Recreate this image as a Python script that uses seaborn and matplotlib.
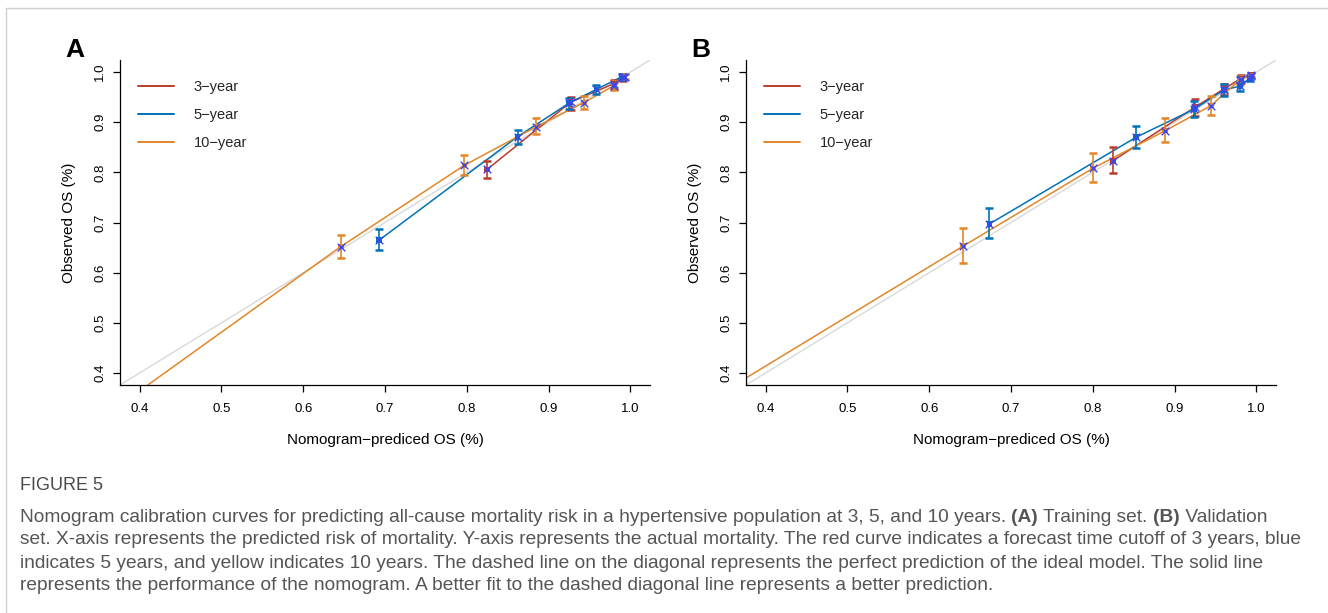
import numpy as np
import pandas as pd
import matplotlib
matplotlib.use("Agg")
import matplotlib.pyplot as plt
from matplotlib.lines import Line2D
import seaborn as sns

# ---------------- data ----------------
series_names = ["3\u2212year", "5\u2212year", "10\u2212year"]
series_colors = ["#BC3C29", "#0072B5", "#E18727"]

# Panel A (training set)
a3_x = [0.825, 0.927, 0.980, 0.991]
a3_y = [0.806, 0.940, 0.977, 0.990]
a3_lo = [0.789, 0.925, 0.967, 0.983]
a3_hi = [0.823, 0.950, 0.985, 0.996]

a5_x = [0.693, 0.862, 0.925, 0.9585, 0.990]
a5_y = [0.665, 0.871, 0.938, 0.9655, 0.991]
a5_lo = [0.645, 0.857, 0.926, 0.956, 0.985]
a5_hi = [0.687, 0.884, 0.948, 0.974, 0.996]

a10_x = [0.410, 0.646, 0.797, 0.885, 0.943, 0.980, 0.993]
a10_y = [0.376, 0.652, 0.814, 0.891, 0.939, 0.973, 0.991]
a10_lo = [np.nan, 0.629, 0.795, 0.876, 0.927, 0.965, 0.986]
a10_hi = [np.nan, 0.675, 0.835, 0.908, 0.952, 0.982, 0.996]

# Panel B (validation set)
b3_x = [0.8245, 0.925, 0.961, 0.981, 0.994]
b3_y = [0.823, 0.930, 0.967, 0.987, 0.995]
b3_lo = [0.799, 0.912, 0.955, 0.978, 0.990]
b3_hi = [0.850, 0.946, 0.976, 0.994, 0.998]

b5_x = [0.6735, 0.853, 0.924, 0.960, 0.980, 0.992]
b5_y = [0.697, 0.870, 0.926, 0.964, 0.972, 0.988]
b5_lo = [0.669, 0.848, 0.910, 0.952, 0.962, 0.982]
b5_hi = [0.728, 0.892, 0.943, 0.976, 0.982, 0.994]

b10_x = [0.376, 0.6416, 0.800, 0.8886, 0.9445, 0.980, 0.993]
b10_y = [0.390, 0.653, 0.808, 0.883, 0.933, 0.985, 0.993]
b10_lo = [np.nan, 0.619, 0.781, 0.861, 0.914, 0.975, 0.988]
b10_hi = [np.nan, 0.690, 0.838, 0.908, 0.952, 0.993, 0.998]

ticks = [0.4, 0.5, 0.6, 0.7, 0.8, 0.9, 1.0]
tick_labels = ["0.4", "0.5", "0.6", "0.7", "0.8", "0.9", "1.0"]
x_label = "Nomogram\u2212prediced OS (%)"
y_label = "Observed OS (%)"
panel_letters = ["A", "B"]

caption_title = "FIGURE 5"
caption_lines = [
    [("Nomogram calibration curves for predicting all-cause mortality risk in a hypertensive population at 3, 5, and 10 years. ", False),
     ("(A)", True), (" Training set. ", False), ("(B)", True), (" Validation", False)],
    [("set. X-axis represents the predicted risk of mortality. Y-axis represents the actual mortality. The red curve indicates a forecast time cutoff of 3 years, blue", False)],
    [("indicates 5 years, and yellow indicates 10 years. The dashed line on the diagonal represents the perfect prediction of the ideal model. The solid line", False)],
    [("represents the performance of the nomogram. A better fit to the dashed diagonal line represents a better prediction.", False)],
]


def make_df(xs, ys, los, his):
    frames = []
    for name, x, y, lo, hi in zip(series_names, xs, ys, los, his):
        frames.append(pd.DataFrame({"pred": x, "obs": y, "lo": lo, "hi": hi,
                                    "series": name, "order": np.arange(len(x))}))
    return pd.concat(frames, ignore_index=True)


dfA = make_df([a3_x, a5_x, a10_x], [a3_y, a5_y, a10_y], [a3_lo, a5_lo, a10_lo], [a3_hi, a5_hi, a10_hi])
dfB = make_df([b3_x, b5_x, b10_x], [b3_y, b5_y, b10_y], [b3_lo, b5_lo, b10_lo], [b3_hi, b5_hi, b10_hi])

# ---------------- style ----------------
sns.set_theme(style="white")
plt.rcParams["font.family"] = ["Liberation Sans", "DejaVu Sans"]
plt.rcParams["axes.linewidth"] = 0.9

W, H = 1328, 613
fig = plt.figure(figsize=(W / 100, H / 100), dpi=100)
fig.patch.set_facecolor("white")

palette = dict(zip(series_names, series_colors))
lims = (0.376, 1.024)

axes_px = [(120, 60, 650, 385), (746, 60, 1276, 385)]

for k, (df, (l, t, r, b)) in enumerate(zip([dfA, dfB], axes_px)):
    ax = fig.add_axes([l / W, 1 - b / H, (r - l) / W, (b - t) / H])
    ax.set_facecolor("white")
    ax.axline((0.5, 0.5), slope=1, color="#D9D9D9", lw=1.0, zorder=1)

    sns.lineplot(data=df, x="pred", y="obs", hue="series", units="series", estimator=None,
                 sort=False, palette=palette, hue_order=series_names, lw=1.1,
                 legend=False, ax=ax, zorder=2)

    pts = df.dropna(subset=["lo"])
    for name in series_names:
        s = pts[pts["series"] == name]
        ax.errorbar(s["pred"], s["obs"], yerr=[s["obs"] - s["lo"], s["hi"] - s["obs"]],
                    fmt="none", ecolor=palette[name], elinewidth=1.2, capsize=2.8,
                    capthick=1.8, zorder=3)
    sns.scatterplot(data=pts, x="pred", y="obs", hue="series", palette=palette,
                    hue_order=series_names, marker="s", s=16, linewidth=0,
                    legend=False, ax=ax, zorder=4)
    ax.scatter(pts["pred"], pts["obs"], marker="x", s=30, color="#3A46F2",
               linewidths=1.0, zorder=5)

    ax.set_xlim(lims)
    ax.set_ylim(lims)
    ax.set_xticks(ticks)
    ax.set_xticklabels(tick_labels)
    ax.set_yticks(ticks)
    ax.set_yticklabels(tick_labels, rotation=90, va="center")
    ax.tick_params(axis="both", direction="out", length=5, width=0.9, colors="black",
                   labelsize=9.5, bottom=True, left=True)
    ax.tick_params(axis="x", pad=8)
    ax.tick_params(axis="y", pad=5)
    for side in ["top", "right"]:
        ax.spines[side].set_visible(False)
    for side in ["left", "bottom"]:
        ax.spines[side].set_color("black")
    ax.set_xlabel(x_label, fontsize=11, labelpad=13, color="black")
    ax.set_ylabel(y_label, fontsize=11, labelpad=13, color="black")

    handles = [Line2D([], [], color=c, lw=1.4) for c in series_colors]
    ax.legend(handles, series_names, loc="upper left", bbox_to_anchor=(0.034, 0.937),
              frameon=False, fontsize=10.5, handlelength=2.5, handletextpad=1.3,
              labelspacing=0.95, borderpad=0, borderaxespad=0)

    fig.text((l - 45) / W, 1 - 50 / H, panel_letters[k], fontsize=19, fontweight="bold",
             ha="center", va="center", color="black")

# page border lines
fig.add_artist(Line2D([6 / W, 1], [1 - 8 / H, 1 - 8 / H], color="#CFCFCF", lw=1.0))
fig.add_artist(Line2D([6 / W, 6 / W], [0, 1 - 8 / H], color="#CFCFCF", lw=1.0))

# caption
cap_font = ["Liberation Sans", "DejaVu Sans"]
fig.text(20 / W, 1 - 486 / H, caption_title, fontsize=13, color="#4A4A4A",
         family=cap_font, ha="left", va="center")

fig.canvas.draw()
renderer = fig.canvas.get_renderer()
line_y = [517, 540, 563, 586]
for yv, pieces in zip(line_y, caption_lines):
    xpos = 20
    for txt, bold in pieces:
        t = fig.text(xpos / W, 1 - yv / H, txt, fontsize=13.8, color="#555555",
                     family=cap_font, fontweight="bold" if bold else "normal",
                     ha="left", va="center")
        bb = t.get_window_extent(renderer=renderer)
        xpos += bb.width

fig.savefig("out.png", dpi=100, facecolor="white")
